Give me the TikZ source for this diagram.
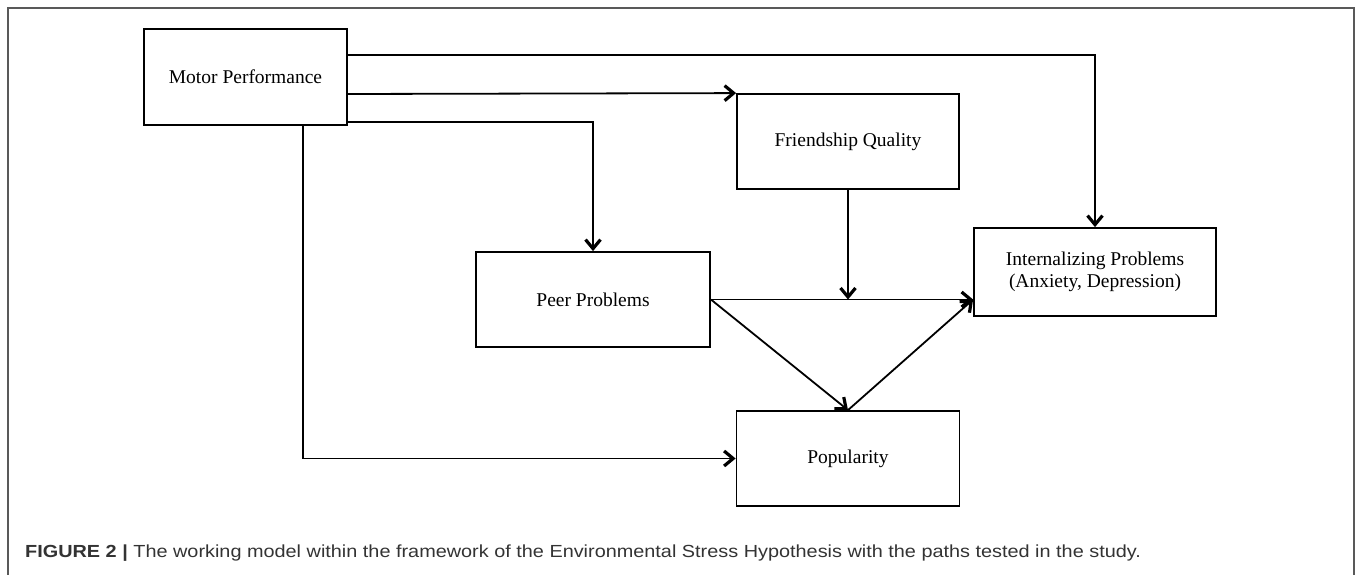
\documentclass[tikz,border=0pt]{standalone}
\usepackage{fontspec}
\setmainfont{Liberation Serif}
\newfontfamily\capfont[FakeStretch=1.135]{Liberation Sans}
\usetikzlibrary{arrows.meta}
\tikzset{
  box/.style={draw,line width=1.8pt,minimum width=#1,minimum height=95pt,inner sep=0pt,
    align=center,font=\fontsize{19.5}{22}\selectfont},
  link/.style={line width=1.8pt,-{Straight Barb[length=9pt,width=15pt,line width=3.2pt]}}
}
\begin{document}
\begin{tikzpicture}[x=1pt,y=-1pt]
\useasboundingbox (0,0) rectangle (1357,575);
\draw[line width=1.3pt,black!65] (8,575) -- (8,8) -- (1354,8) -- (1354,575);
% boxes
\node[box=203pt,minimum height=96pt] (motor) at (245.5,77) {Motor Performance};
\node[box=222pt] (friend) at (848,141.5) {Friendship Quality};
\node[box=234pt] (peer) at (593,299.5) {Peer Problems};
\node[box=242pt,minimum height=88pt] (intern) at (1095,272) {Internalizing Problems\\(Anxiety, Depression)};
\node[box=223pt] (pop) at (848,458.5) {Popularity};
% paths
\coordinate (meet) at (friend.south |- peer.east);
\coordinate (into) at (intern.west |- peer.east);
\draw[link] ([yshift=22pt]motor.east) -| (intern.north);
\draw[link] ([yshift=-17pt]motor.east) -- (friend.north west);
\draw[link] ([yshift=-45pt]motor.east) -| (peer.north);
\draw[link] ([xshift=57.5pt]motor.south) |- (pop.west);
\draw[link] (friend.south) -- (meet);
\draw[link] (peer.east) -- (into);
\draw[link] (peer.east) -- (pop.north);
\draw[link] (pop.north) -- (into);
% caption
\node[anchor=base west,inner sep=0pt,text=black!80,font=\capfont\fontsize{17.5}{20}\selectfont] (cap) at (25,557)
  {\textbf{FIGURE 2 |} The working model within the framework of the Environmental Stress Hypothesis with the paths tested in the study.};
\end{tikzpicture}
\end{document}
